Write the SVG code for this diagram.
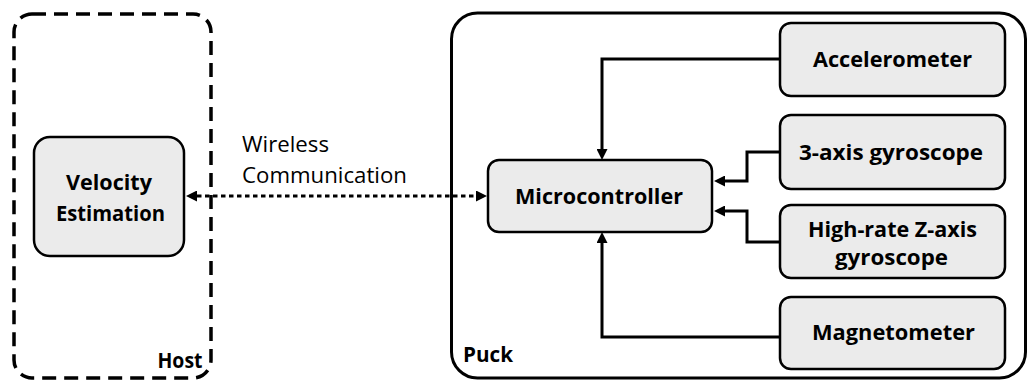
<svg xmlns="http://www.w3.org/2000/svg" width="1029" height="382" viewBox="0 0 1029 382">
<defs>
<style>
.box{fill:#ebebeb;stroke:#000;stroke-width:2.5}
.lbl{font-family:"Open Sans","Liberation Sans",sans-serif;font-weight:bold;font-size:22px;fill:#000;text-anchor:middle}
.reg{font-family:"Open Sans","Liberation Sans",sans-serif;font-size:21px;fill:#000}
.conn{fill:none;stroke:#000;stroke-width:3}
</style>
<marker id="arr" viewBox="0 0 11 11" refX="0" refY="5.5" markerWidth="11" markerHeight="11" markerUnits="userSpaceOnUse" orient="auto-start-reverse">
<path d="M0,0 L11,5.5 L0,11 z" fill="#000"/>
</marker>
</defs>
<rect width="1029" height="382" fill="#fff"/>
<g id="host">
<rect x="14" y="14" width="197" height="364" rx="18" fill="none" stroke="#000" stroke-width="3.5" stroke-dasharray="14 8"/>
<text class="lbl" x="180" y="368" font-size="20" textLength="45" lengthAdjust="spacingAndGlyphs">Host</text>
</g>
<g id="puck">
<rect x="451.5" y="13" width="574" height="365" rx="26" fill="none" stroke="#000" stroke-width="3"/>
<text class="lbl" x="488" y="362" font-size="20" textLength="50" lengthAdjust="spacingAndGlyphs">Puck</text>
</g>
<g id="connectors">
<path class="conn" d="M197,196 H476" stroke-width="3.5" stroke-dasharray="4.5 3.5" marker-start="url(#arr)" marker-end="url(#arr)"/>
<path class="conn" d="M780,59 H602 V149" marker-end="url(#arr)"/>
<path class="conn" d="M780,337 H602 V243" marker-end="url(#arr)"/>
<path class="conn" d="M780,152 H747 V181 H725" marker-end="url(#arr)"/>
<path class="conn" d="M780,242 H747 V211 H725" marker-end="url(#arr)"/>
</g>
<g id="wireless-label">
<text class="reg" x="242" y="152" textLength="87" lengthAdjust="spacingAndGlyphs">Wireless</text>
<text class="reg" x="242" y="183" textLength="165" lengthAdjust="spacingAndGlyphs">Communication</text>
</g>
<g id="velocity">
<rect class="box" x="34" y="137" width="150" height="119" rx="16"/>
<text class="lbl" x="109" y="190" textLength="86" lengthAdjust="spacingAndGlyphs">Velocity</text>
<text class="lbl" x="110.5" y="221" textLength="109" lengthAdjust="spacingAndGlyphs">Estimation</text>
</g>
<g id="microcontroller">
<rect class="box" x="488" y="160" width="224" height="72" rx="11"/>
<text class="lbl" x="599" y="204" textLength="168" lengthAdjust="spacingAndGlyphs">Microcontroller</text>
</g>
<g id="accelerometer">
<rect class="box" x="780" y="23" width="225" height="73" rx="11"/>
<text class="lbl" x="892.5" y="67" textLength="159" lengthAdjust="spacingAndGlyphs">Accelerometer</text>
</g>
<g id="gyro3">
<rect class="box" x="780" y="115" width="225" height="74" rx="11"/>
<text class="lbl" x="891" y="160" textLength="184" lengthAdjust="spacingAndGlyphs">3-axis gyroscope</text>
</g>
<g id="gyroz">
<rect class="box" x="780" y="205" width="225" height="73" rx="11"/>
<text class="lbl" x="892.5" y="237" textLength="169" lengthAdjust="spacingAndGlyphs">High-rate Z-axis</text>
<text class="lbl" x="891.5" y="265" textLength="113" lengthAdjust="spacingAndGlyphs">gyroscope</text>
</g>
<g id="magnetometer">
<rect class="box" x="780" y="297" width="225" height="72" rx="11"/>
<text class="lbl" x="893.5" y="340" textLength="163" lengthAdjust="spacingAndGlyphs">Magnetometer</text>
</g>
</svg>
